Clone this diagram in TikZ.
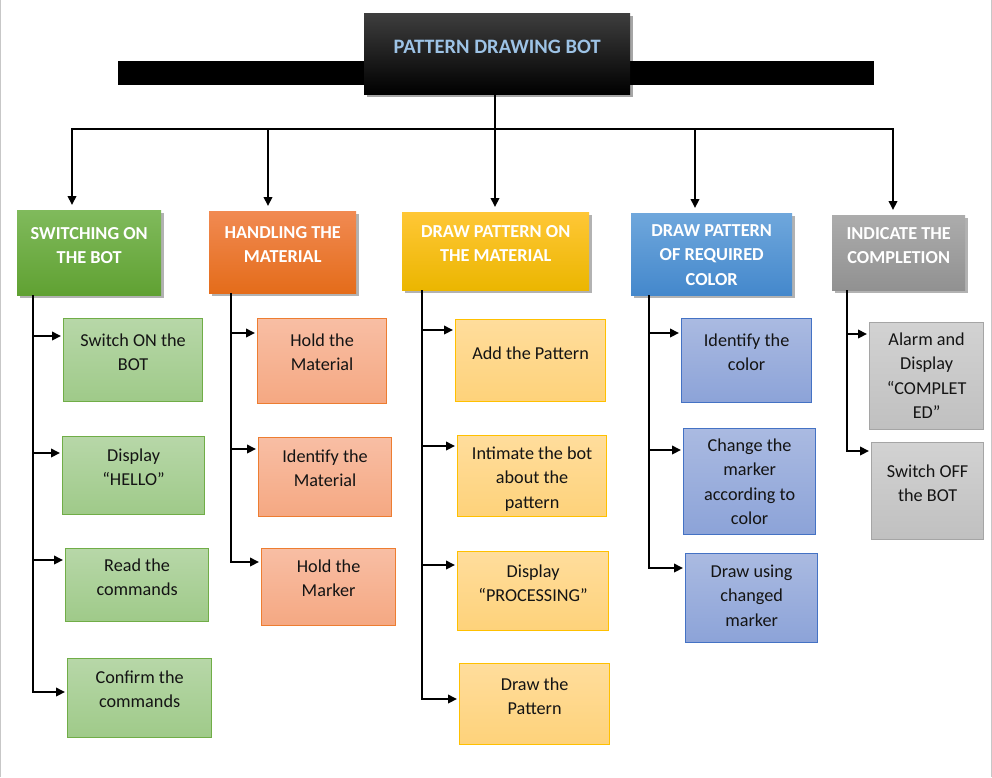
\documentclass[tikz,border=0pt]{standalone}
\usepackage{fontspec}
\setmainfont{Carlito}
\usetikzlibrary{arrows.meta,shadows,calc}
\definecolor{hgT}{RGB}{128,186,92}\definecolor{hgB}{RGB}{96,161,50}
\definecolor{hoT}{RGB}{241,138,82}\definecolor{hoB}{RGB}{228,108,26}
\definecolor{hyT}{RGB}{255,199,54}\definecolor{hyB}{RGB}{235,182,0}
\definecolor{hbT}{RGB}{111,167,220}\definecolor{hbB}{RGB}{68,136,204}
\definecolor{hsT}{RGB}{172,172,172}\definecolor{hsB}{RGB}{145,145,145}
\definecolor{cgT}{RGB}{183,215,168}\definecolor{cgB}{RGB}{159,202,137}\definecolor{cgD}{RGB}{112,173,71}
\definecolor{coT}{RGB}{248,190,164}\definecolor{coB}{RGB}{245,168,130}\definecolor{coD}{RGB}{237,125,49}
\definecolor{cyT}{RGB}{255,221,156}\definecolor{cyB}{RGB}{254,210,122}\definecolor{cyD}{RGB}{255,192,0}
\definecolor{cbT}{RGB}{170,186,225}\definecolor{cbB}{RGB}{140,163,216}\definecolor{cbD}{RGB}{68,114,196}
\definecolor{csT}{RGB}{210,210,210}\definecolor{csB}{RGB}{192,192,192}\definecolor{csD}{RGB}{165,165,165}
\definecolor{titleblue}{RGB}{157,195,230}
\definecolor{txtdark}{RGB}{20,20,20}
\newcommand\headbox[8]{%
  \node[headshape, top color=#6T, bottom color=#6B, minimum width={#4-#2}, minimum height={#5-#3}, anchor=north west] (#1) at (#2,#3) {};
  \node[headtext, anchor=north] (#1t) at ($(#1.north)+(0,#7-11)$) {\strut #8};
}
\newcommand\childbox[8]{%
  \node[childshape, top color=#6T, bottom color=#6B, draw=#6D, minimum width={#4-#2}, minimum height={#5-#3}, anchor=north west] (#1) at (#2,#3) {};
  \node[childtext, anchor=north] (#1t) at ($(#1.north)+(0,#7-11)$) {\strut #8};
}
\newcommand\childarrow[3]{%
  \coordinate (#2a) at ($(#2.north west)+(0,#3)$);
  \draw[arr] (#1 |- #2a) -- (#2a);
}
\begin{document}
\begin{tikzpicture}[x=1pt,y=-1pt,
  headshape/.style={rectangle, inner sep=0pt, draw=none,
    drop shadow={shadow xshift=3pt, shadow yshift=-3pt, opacity=0.3, fill=black}},
  headtext/.style={inner sep=0pt, align=center, text=white,
    font=\fontsize{18.3}{24.5}\selectfont\bfseries},
  childshape/.style={rectangle, inner sep=0pt, line width=1.2pt},
  childtext/.style={inner sep=0pt, align=center, text=txtdark,
    font=\fontsize{18.2}{24.5}\selectfont},
  conn/.style={line width=2pt, black},
  arr/.style={conn, -{Triangle[length=9pt,width=8.5pt]}, shorten >=2pt},
  downarr/.style={conn, -{Triangle[length=9pt,width=8.5pt]}, shorten >=5pt}]
\useasboundingbox (0,0) rectangle (992,777);
\fill[white] (0,0) rectangle (992,777);
\draw[black!22, line width=1pt] (0.5,0) -- (0.5,777) (991.5,0) -- (991.5,777);

% title
\node[fill=black, inner sep=0pt, minimum width=756, minimum height=24, anchor=north west] (bar) at (118,61) {};
\node[rectangle, inner sep=0pt, top color={rgb,255:red,62;green,62;blue,62}, middle color=black, bottom color=black,
  minimum width=266, minimum height=81, anchor=north west,
  drop shadow={shadow xshift=3pt, shadow yshift=-3pt, opacity=0.35, fill=black}] (title) at (364,13) {};
\node[inner sep=0pt, text=titleblue, font=\fontsize{20.5}{24}\selectfont\bfseries] (titlet) at ($(title.north)+(0,34)$) {PATTERN DRAWING BOT};

% headers
\headbox{hg}{17}{210}{161}{295}{hg}{23}{SWITCHING ON\\THE BOT}
\headbox{ho}{209}{211}{356}{293}{ho}{21}{HANDLING THE\\MATERIAL}
\headbox{hy}{402}{212}{589}{290}{hy}{19}{DRAW PATTERN ON\\THE MATERIAL}
\headbox{hb}{631}{213}{792}{295}{hb}{17}{DRAW PATTERN\\OF REQUIRED\\COLOR}
\headbox{hs}{832}{215}{965}{290}{hs}{18}{INDICATE THE\\COMPLETION}

% bus
\coordinate (bus1) at (72,129);
\coordinate (bus2) at (268,129);
\coordinate (bus3) at (495,129);
\coordinate (bus4) at (695,129);
\coordinate (bus5) at (893,129);
\draw[conn] (title.south -| bus3) -- (bus3);
\draw[conn, line cap=rect] (bus1) -- (bus5);
\draw[downarr] (bus1) -- (bus1 |- hg.north);
\draw[downarr] (bus2) -- (bus2 |- ho.north);
\draw[downarr] (bus3) -- (bus3 |- hy.north);
\draw[downarr] (bus4) -- (bus4 |- hb.north);
\draw[downarr] (bus5) -- (bus5 |- hs.north);

% green column
\childbox{g1}{63}{318}{202}{401}{cg}{22}{Switch ON the\\BOT}
\childbox{g2}{62}{436}{204}{514}{cg}{19}{Display\\“HELLO”}
\childbox{g3}{65}{548}{208}{621}{cg}{17}{Read the\\commands}
\childbox{g4}{67}{658}{211}{737}{cg}{19}{Confirm the\\commands}
\coordinate (tg) at (33,0);
\coordinate (g4a) at ($(g4.north west)+(0,34)$);
\draw[arr] (hg.south -| tg) |- (g4a);
\childarrow{tg}{g1}{18}
\childarrow{tg}{g2}{17}
\childarrow{tg}{g3}{12}

% orange column
\childbox{o1}{257}{318}{386}{403}{co}{22}{Hold the\\Material}
\childbox{o2}{258}{437}{391}{516}{co}{19}{Identify the\\Material}
\childbox{o3}{261}{548}{395}{625}{co}{18}{Hold the\\Marker}
\coordinate (to) at (231,0);
\coordinate (o3a) at ($(o3.north west)+(0,14)$);
\draw[arr] (ho.south -| to) |- (o3a);
\childarrow{to}{o1}{15}
\childarrow{to}{o2}{12}

% yellow column
\childbox{y1}{455}{319}{605}{401}{cy}{34}{Add the Pattern}
\childbox{y2}{457}{435}{606}{516}{cy}{18}{Intimate the bot\\about the\\pattern}
\childbox{y3}{457}{551}{608}{630}{cy}{20}{Display\\“PROCESSING”}
\childbox{y4}{459}{663}{609}{744}{cy}{21}{Draw the\\Pattern}
\coordinate (ty) at (422,0);
\coordinate (y4a) at ($(y4.north west)+(0,36)$);
\draw[arr] (hy.south -| ty) |- (y4a);
\childarrow{ty}{y1}{11}
\childarrow{ty}{y2}{11}
\childarrow{ty}{y3}{14}

% blue column
\childbox{b1}{681}{318}{811}{402}{cb}{22}{Identify the\\color}
\childbox{b2}{683}{428}{815}{534}{cb}{17}{Change the\\marker\\according to\\color}
\childbox{b3}{685}{553}{817}{642}{cb}{18}{Draw using\\changed\\marker}
\coordinate (tb) at (649,0);
\coordinate (b3a) at ($(b3.north west)+(0,15)$);
\draw[arr] (hb.south -| tb) |- (b3a);
\childarrow{tb}{b1}{15}
\childarrow{tb}{b2}{22}

% gray column
\childbox{s1}{869}{322}{983}{429}{cs}{17}{Alarm and\\Display\\“COMPLET\\ED”}
\childbox{s2}{871}{442}{983}{539}{cs}{29}{Switch OFF\\the BOT}
\coordinate (ts) at (847,0);
\coordinate (s2a) at ($(s2.north west)+(0,9)$);
\draw[arr] (hs.south -| ts) |- (s2a);
\childarrow{ts}{s1}{12}
\end{tikzpicture}
\end{document}
